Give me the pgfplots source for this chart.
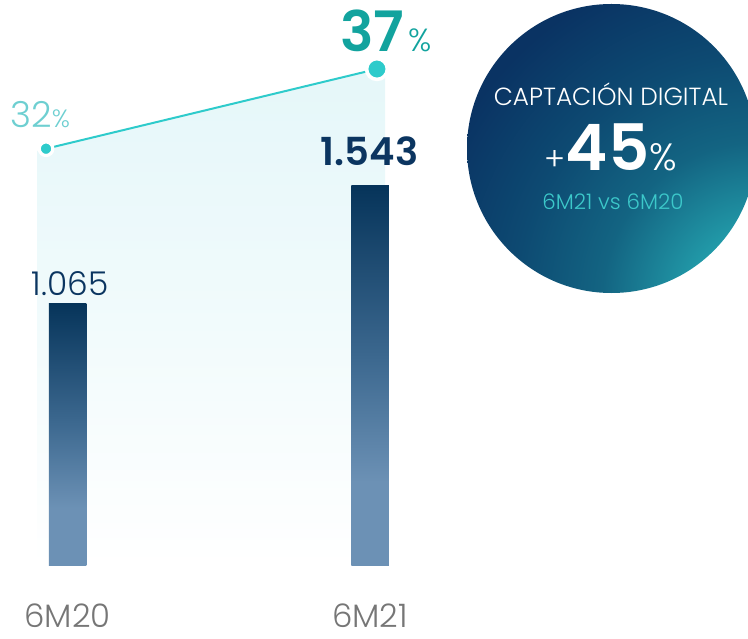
\documentclass[border=0pt]{standalone}
\usepackage{pgfplots}
\pgfplotsset{compat=1.18}
\usepackage{fontspec}
\setmainfont{Poppins}
\newfontfamily\plight{Poppins Light}
\newfontfamily\pbold{Poppins SemiBold}
\definecolor{navy}{HTML}{0B3560}
\definecolor{teal37}{HTML}{12A39E}
\definecolor{lt32}{HTML}{6ECFD1}
\definecolor{linec}{HTML}{2ECBCB}
\definecolor{greyl}{HTML}{767676}
\definecolor{areac}{HTML}{E5F7F9}
\definecolor{barTop}{HTML}{06345A}
\definecolor{barMid}{HTML}{3D6990}
\definecolor{barBot}{HTML}{6C91B5}
\definecolor{cA}{HTML}{2BAEB5}
\definecolor{cB}{HTML}{2198A7}
\definecolor{cC}{HTML}{136482}
\definecolor{cD}{HTML}{0D4A72}
\definecolor{cE}{HTML}{0A3363}
\definecolor{subc}{HTML}{3CC8CA}
\pgfdeclareverticalshading{bargrad}{100bp}{color(0bp)=(barBot); color(25bp)=(barBot); color(36bp)=(barBot); color(52bp)=(barMid); color(75bp)=(barTop); color(100bp)=(barTop)}
\pgfdeclareradialshading{circrad}{\pgfpoint{0bp}{0bp}}{color(0bp)=(cA); color(5bp)=(cB); color(11bp)=(cC); color(17bp)=(cD); color(24bp)=(cE); color(50bp)=(cE)}
\begin{document}
\begin{tikzpicture}
% percentage axis: shaded area and line
\begin{axis}[
  at={(0,0)}, anchor=south west,
  scale only axis, width=374pt, height=319pt,
  xmin=-0.22314, xmax=2.24959,
  ymin=1.30, ymax=41.33,
  hide axis, clip=false]
 \addplot[draw=none, shading=axis, top color=areac, bottom color=white, middle color=areac!55!white]
   coordinates {(-0.1008,31.86) (1.0496,37.12) (1.0496,5.84) (-0.1008,5.84)};
 \addplot[linec, line width=1pt, mark=none] coordinates {(-0.071,32) (1.023,37)};
 \addplot[only marks, mark=*, mark size=3.4pt, mark options={fill=linec, draw=white, line width=1.6pt}] coordinates {(-0.071,32)};
 \addplot[only marks, mark=*, mark size=5.2pt, mark options={fill=linec, draw=white, line width=1.8pt}] coordinates {(1.023,37)};
\end{axis}
% bar axis
\begin{axis}[
  at={(0,0)}, anchor=south west,
  scale only axis, width=374pt, height=319pt,
  xmin=-0.22314, xmax=2.24959,
  ymin=-293.4, ymax=2295.7,
  axis line style={draw=none}, major tick length=0pt, ytick=\empty,
  xtick={0,1}, xticklabels={6M20,6M21},
  xticklabel style={anchor=base, yshift=5.5pt, inner sep=0pt, font=\plight\fontsize{16.2}{18}\selectfont, text=greyl},
  clip=false, ybar, bar width=18.75pt, bar shift=0pt]
 \addplot[draw=none, shade, shading=bargrad] coordinates {(0,1065)};
 \addplot[draw=none, shade, shading=bargrad] coordinates {(1,1543)};
\end{axis}
% annotations
\node[anchor=base west, inner sep=0pt, text=lt32] at (5pt,255pt)
  {{\plight\fontsize{17.9}{20}\selectfont 32}{\plight\fontsize{12.5}{14}\selectfont\%}};
\node[anchor=base west, inner sep=0pt, text=teal37] at (170pt,293pt)
  {{\pbold\fontsize{27.9}{30}\selectfont 37}\hspace{2pt}{\plight\fontsize{16}{18}\selectfont\%}};
\node[anchor=base, inner sep=0pt, text=navy] at (184.75pt,236pt)
  {\pbold\fontsize{19.3}{21}\selectfont 1.543};
\node[anchor=base, inner sep=0pt, text=navy] at (35pt,171.5pt)
  {\plight\fontsize{16.4}{18}\selectfont 1.065};
% circle
\begin{scope}
\clip (305.75pt,244.75pt) circle (72.25pt);
\shade[shading=circrad] (380pt,169pt) circle (180pt);
\end{scope}
\node[anchor=base, inner sep=0pt, text=white] at (305.5pt,266pt)
  {\plight\fontsize{12.4}{14}\selectfont CAPTACIÓN DIGITAL};
\node[anchor=base, inner sep=0pt, text=white] at (305.5pt,233.5pt)
  {{\plight\fontsize{16}{18}\selectfont +}{\pbold\fontsize{32}{34}\selectfont 45}{\plight\fontsize{19}{21}\selectfont\%}};
\node[anchor=base, inner sep=0pt, text=subc] at (306.5pt,214.5pt)
  {\plight\fontsize{10.7}{12}\selectfont 6M21 vs 6M20};
\pgfresetboundingbox
\useasboundingbox (0,0) rectangle (374pt,319pt);
\end{tikzpicture}
\end{document}
